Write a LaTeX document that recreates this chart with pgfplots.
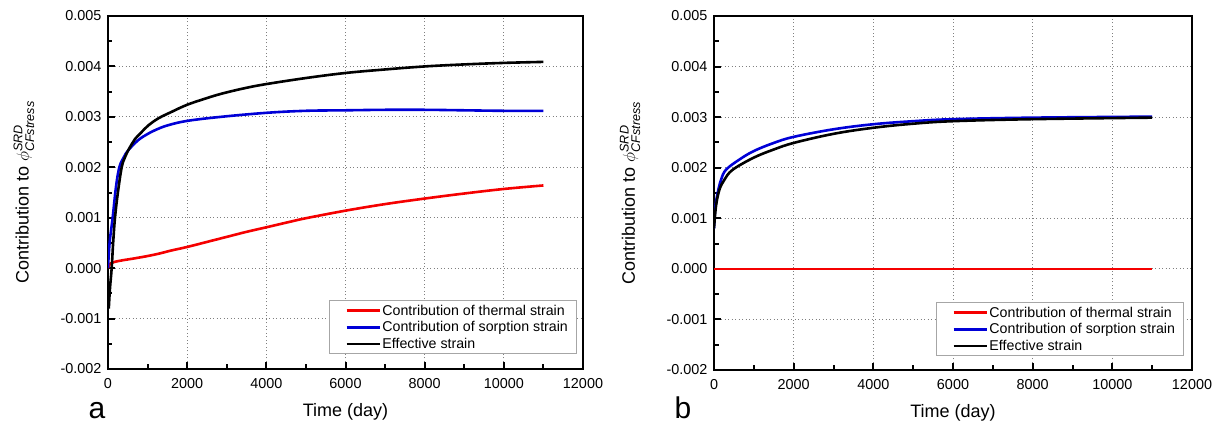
\documentclass[border=0pt]{standalone}
\usepackage{fontspec}
\setmainfont{Liberation Sans}
\usepackage{amsmath}
\usepackage{pgfplots}
\pgfplotsset{compat=1.18}

\definecolor{cred}{RGB}{245,0,0}
\definecolor{cblue}{RGB}{0,0,215}

\pgfplotsset{
 cv/.style={line width=2.6bp, smooth, tension=0.6},
 myaxis/.style={
  scale only axis,
  xmin=0,xmax=12000,ymin=-0.002,ymax=0.005,
  xtick={0,2000,4000,6000,8000,10000,12000},
  xticklabels={0,2000,4000,6000,8000,10000,12000},
  minor x tick num=1,
  ytick={-0.002,-0.001,0,0.001,0.002,0.003,0.004,0.005},
  yticklabels={-0.002,-0.001,0.000,0.001,0.002,0.003,0.004,0.005},
  minor y tick num=1,
  scaled ticks=false,
  tick pos=left, tick align=inside,
  major tick length=7bp, minor tick length=4.5bp,
  tick style={black, line width=2bp},
  axis line style={line width=2.5bp},
  grid=major,
  major grid style={gray, line width=0.9bp, dash pattern=on 1bp off 2.5bp},
  /pgf/number format/assume math mode=true,
  tick label style={font=\fontsize{14.4bp}{16bp}\selectfont},
  xticklabel style={yshift=-6bp},
  yticklabel style={xshift=-3bp},
  label style={font=\fontsize{18bp}{21bp}\selectfont},
  xlabel={Time (day)},
  ylabel={Contribution to $\phi^{\text{\itshape SRD}}_{\text{\itshape CFstress}}$},
  xlabel style={at={(axis description cs:0.5,0)}, anchor=base, yshift=-47bp},
  legend cell align=left,
  legend style={draw=gray!70, line width=0.8bp,
    font=\fontsize{14.2bp}{16bp}\selectfont,
    inner xsep=7bp, inner ysep=1.5bp,
    nodes={inner xsep=1.5bp, inner ysep=2.4bp},
    /tikz/every even column/.append style={column sep=0bp}},
  legend image code/.code={\path (0bp,0bp); \draw[#1, line width=2.6bp] (9bp,0bp) -- (42bp,0bp);},
 }}

\begin{document}
\begin{tikzpicture}
\useasboundingbox (0,0) rectangle (1218bp,424bp);

% ---------------- panel a ----------------
\begin{axis}[myaxis, at={(108bp,55bp)}, anchor=south west,
  width=475bp, height=353bp,
  ylabel style={at={(axis description cs:-0.177,0.5)}, anchor=center},
  legend style={at={(0.987,0.0425)}, anchor=south east}]
\addplot[cred, cv] coordinates {
(0,0) (30,0.00006) (80,0.0001) (200,0.00013) (400,0.00016) (640,0.00019)
(1000,0.00024) (1300,0.00029) (1600,0.00035) (2000,0.00042) (2500,0.00052)
(3000,0.00062) (3500,0.00072) (4000,0.00081) (4600,0.00092) (5000,0.00099)
(6000,0.00114) (7000,0.00127) (8000,0.00138) (9000,0.00148) (10000,0.00157)
(11000,0.00164)};
\addlegendentry{Contribution of thermal strain}
\addplot[cblue, cv] coordinates {
(0,0) (40,0.0005) (118,0.001) (200,0.0016) (286,0.002) (400,0.0022)
(514,0.00234) (766,0.00254) (1000,0.00266) (1200,0.00274) (1500,0.00283)
(2000,0.00292) (2850,0.0030) (4000,0.00308) (5000,0.00312) (6000,0.00313)
(7000,0.00314) (8000,0.00314) (9000,0.00313) (10000,0.00312) (11000,0.00312)};
\addlegendentry{Contribution of sorption strain}
\addplot[black, cv] coordinates {
(20,-0.0008) (50,-0.0004) (93,0) (130,0.0005) (177,0.001) (250,0.0015)
(346,0.002) (430,0.0022) (514,0.00234) (600,0.00246) (682,0.00256)
(851,0.0027) (1019,0.00283) (1272,0.00297) (1609,0.0031) (2000,0.00324)
(2450,0.00336) (2872,0.00346) (3461,0.00357) (4000,0.00365) (5000,0.00377)
(6000,0.00387) (7000,0.00394) (8000,0.004) (9000,0.00404) (10000,0.00407)
(11000,0.00409)};
\addlegendentry{Effective strain}
\end{axis}

% ---------------- panel b ----------------
\begin{axis}[myaxis, at={(714bp,54bp)}, anchor=south west,
  width=478bp, height=354bp,
  ylabel style={at={(axis description cs:-0.1757,0.5)}, anchor=center},
  legend style={at={(0.983,0.0395)}, anchor=south east}]
\addplot[cred, cv] coordinates {(0,0) (11000,0)};
\addlegendentry{Contribution of thermal strain}
\addplot[cblue, cv] coordinates {
(0,0.0008) (30,0.0012) (92,0.0015) (176,0.00176) (301,0.00196) (635,0.00216)
(1000,0.00233) (1500,0.00249) (2000,0.00261) (3000,0.00276) (4000,0.00286)
(5000,0.00292) (6000,0.00296) (8000,0.00299) (11000,0.00301)};
\addlegendentry{Contribution of sorption strain}
\addplot[black, cv] coordinates {
(0,0.0008) (50,0.00124) (134,0.00156) (259,0.00176) (469,0.00196)
(1000,0.0022) (1500,0.00236) (2000,0.00249) (3000,0.00267) (4000,0.00279)
(5000,0.00287) (6000,0.00292) (8000,0.00296) (11000,0.00299)};
\addlegendentry{Effective strain}
\end{axis}

\node[font=\fontsize{30bp}{36bp}\selectfont, anchor=base] at (97bp,6bp) {a};
\node[font=\fontsize{30bp}{36bp}\selectfont, anchor=base] at (683bp,6bp) {b};
\end{tikzpicture}
\end{document}
